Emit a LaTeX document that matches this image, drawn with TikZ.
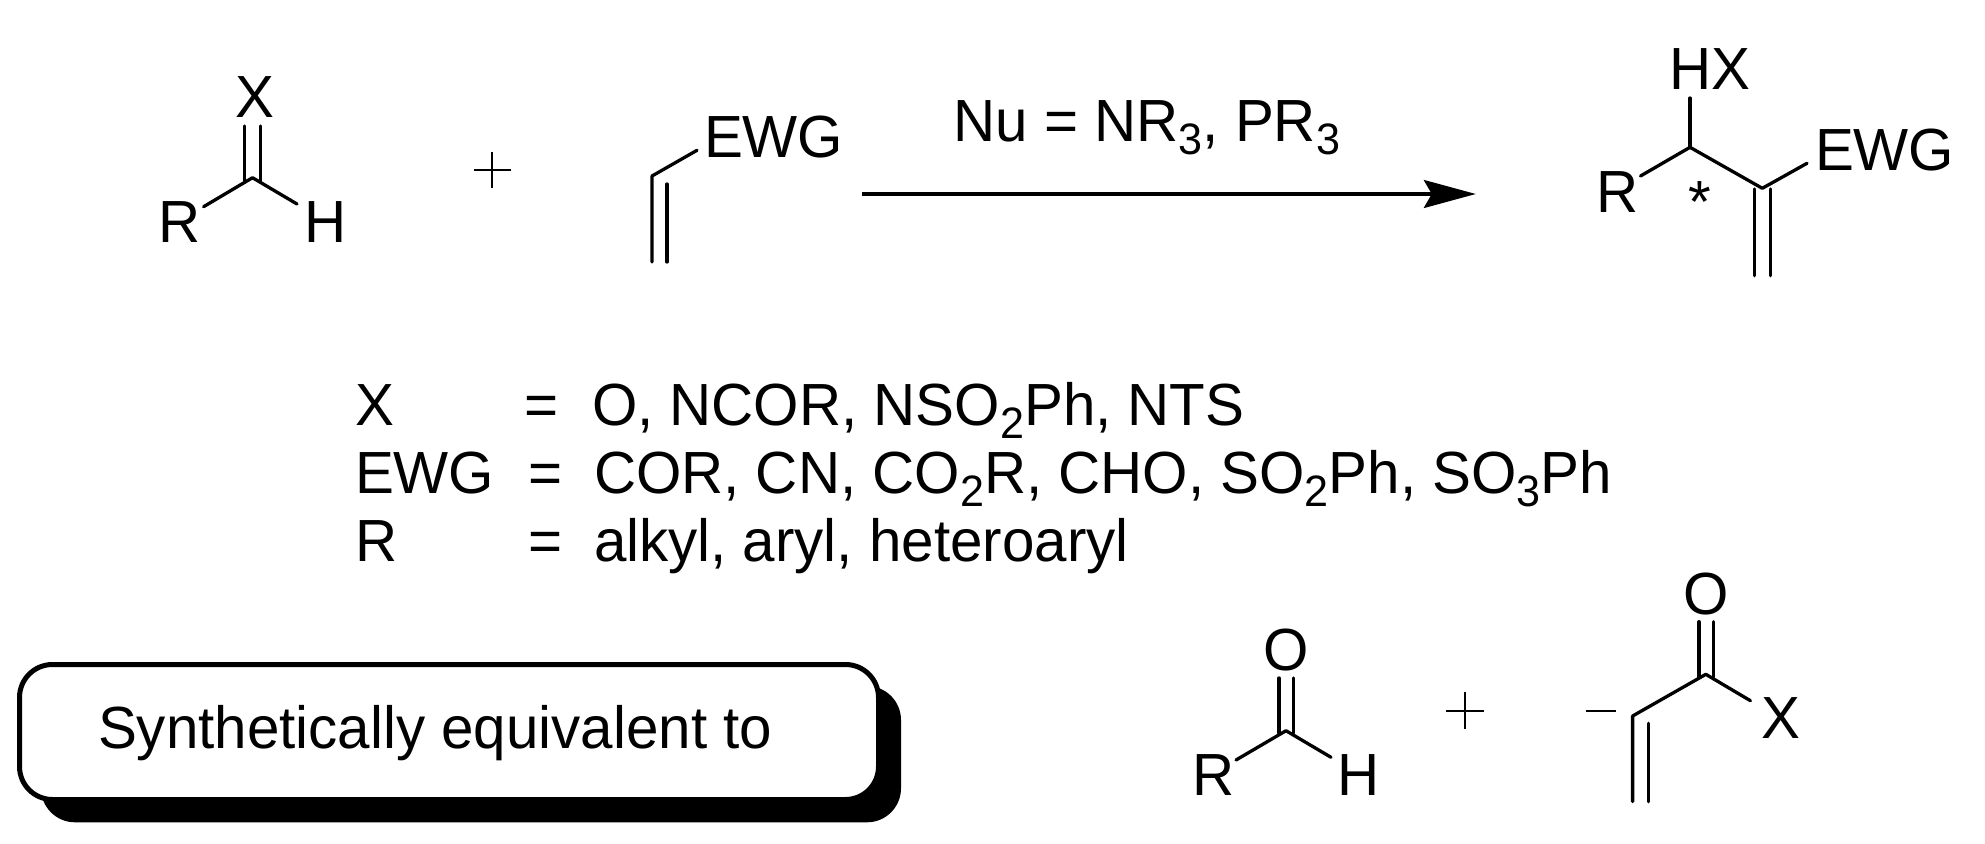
\documentclass[tikz,border=0pt]{standalone}
\usepackage{fontspec}
\setmainfont[FakeStretch=0.98]{Liberation Sans}
\usetikzlibrary{arrows.meta}
\tikzset{x=1pt,y=-1pt,
  lab/.style={inner sep=0pt,outer sep=0pt,font=\fontsize{59.5}{60}\selectfont,text=black,anchor=base west},
  labc/.style={lab,anchor=base},
  bond/.style={line width=3.3pt,line cap=round,line join=round,black},
  thin bond/.style={line width=2.2pt,black}
}
\newcommand{\sbs}[1]{\raisebox{-13pt}{\fontsize{44}{44}\selectfont #1}}
\begin{document}
\begin{tikzpicture}
\useasboundingbox (0,0) rectangle (1985,843);
% aldehyde
\node[labc] (x1) at (254.6,117.7) {X};
\node[labc] (r1) at (179.5,242) {R};
\node[labc] (h1) at (325.5,242) {H};
\coordinate (c1) at (252.5,177.7);
\coordinate (c1r) at (203.6,206.7);
\coordinate (c1h) at (297,204);
\draw[bond] (c1r) -- (c1) -- (c1h);
\draw[bond] (244.4,126) -- (244.4,181);
\draw[bond] (260.2,126) -- (260.2,181);
% plus
\draw[thin bond] (474,170) -- (511,170) (492.3,151.7) -- (492.3,188);
% vinyl EWG
\node[lab] (e1) at (704,157.7) {EWG};
\coordinate (v1) at (652,176);
\coordinate (v1e) at (697,150.3);
\draw[bond] (v1e) -- (v1) -- (652,262);
\draw[bond] (667,184) -- (667,262);
% arrow
\coordinate (a1) at (862,194);
\coordinate (a2) at (1475.8,194);
\draw[line width=3.2pt,black,-{Stealth[length=52pt,width=28pt,inset=8pt]}] (a1) -- (a2);
\node[lab] (nu) at (953.5,141.7) {Nu = NR\sbs{3}, PR\sbs{3}};
% product
\node[lab] (hx) at (1669.5,89.3) {HX};
\node[labc] (r2) at (1618,212.7) {R};
\node[lab] (e2) at (1815,170.7) {EWG};
\node[labc] (st) at (1700,222) {*};
\coordinate (p1c) at (1690,147.3);
\coordinate (p2c) at (1762.3,188.3);
\draw[bond] (1640.5,176) -- (p1c) -- (p2c) -- (1807,163.3);
\draw[bond] (p1c) -- (1690,98);
\draw[bond] (1754.7,189) -- (1754.7,275.7);
\draw[bond] (1770.6,189) -- (1770.6,275.7);
% definitions
\node[lab] (d1a) at (355,425.7) {X};
\node[lab] (d1b) at (524,425.7) {=};
\node[lab] (d1c) at (592,425.7) {O, NCOR, NSO\sbs{2}Ph, NTS};
\node[lab] (d2a) at (355,493) {EWG};
\node[lab] (d2b) at (528,493) {=};
\node[lab] (d2c) at (594,493) {COR, CN, CO\sbs{2}R, CHO, SO\sbs{2}Ph, SO\sbs{3}Ph};
\node[lab] (d3a) at (355,561) {R};
\node[lab] (d3b) at (528,561) {=};
\node[lab] (d3c) at (594,561) {alkyl, aryl, heteroaryl};
% box
\fill[black,rounded corners=34pt] (41,686) rectangle (901,822.3);
\draw[line width=5pt,black,fill=white,rounded corners=33pt] (19.5,664.5) rectangle (878.5,799.5);
\node[lab] (syn) at (98,748) {Synthetically equivalent to};
% lower aldehyde
\node[labc] (o2) at (1286.6,670.7) {O};
\node[labc] (r3) at (1213.6,795.7) {R};
\node[labc] (h3) at (1359,795.7) {H};
\coordinate (c3) at (1286,730.7);
\draw[bond] (1236,760) -- (c3) -- (1331,757.3);
\draw[bond] (1279,678) -- (1279,733);
\draw[bond] (1293.8,678) -- (1293.8,733);
\draw[thin bond] (1446,710.7) -- (1483.5,710.7) (1464.7,692) -- (1464.7,728.7);
% acyl
\node[labc] (o3) at (1706,614) {O};
\node[labc] (x3) at (1781,738) {X};
\coordinate (c4) at (1632.6,716);
\coordinate (c5) at (1705.8,674.3);
\draw[thin bond] (1586,711) -- (1616,711);
\draw[bond] (1632.6,801.7) -- (c4) -- (c5) -- (1750.4,700.7);
\draw[bond] (1648.2,723.3) -- (1648.2,801.7);
\draw[bond] (1699,621.7) -- (1699,677);
\draw[bond] (1713.8,621.7) -- (1713.8,677);
\end{tikzpicture}
\end{document}
